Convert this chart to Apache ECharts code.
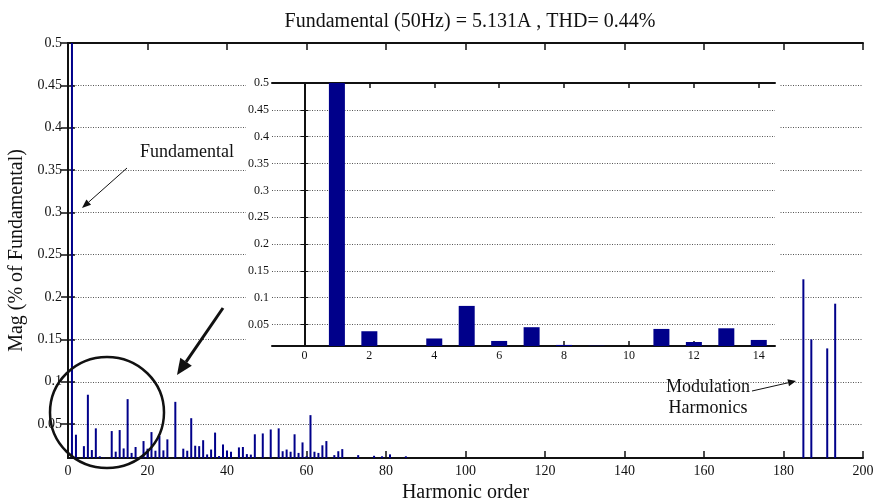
<!DOCTYPE html>
<html>
<head>
<meta charset="utf-8">
<script src="https://cdn.jsdelivr.net/npm/echarts@6/dist/echarts.min.js"></script>
<style>
  html, body { margin: 0; padding: 0; background: #fff; }
  #chart { width: 877px; height: 502px; }
</style>
</head>
<body>
<div id="chart"></div>
<script>
// Harmonic spectrum of the output current (magnitude in % of fundamental)
const harmonics = [
  0, 1, 2, 3, 4, 5, 6, 7, 8, 9, 10, 11, 12, 13, 14, 15, 16, 17, 18, 19,
  20, 21, 22, 23, 24, 25, 27, 29, 30, 31, 32, 33, 34, 35, 36, 37, 38, 39,
  40, 41, 43, 44, 45, 46, 47, 49, 51, 53, 54, 55, 56, 57, 58, 59, 60, 61,
  62, 63, 64, 65, 67, 68, 69, 73, 77, 79, 81, 85, 185, 187, 191, 193
];
const magnitudes = [
  0.004, 100, 0.0375, 0.004, 0.024, 0.0847, 0.0194, 0.045, 0.012, 0.0105,
  0.003, 0.0418, 0.0175, 0.043, 0.0213, 0.0795, 0.016, 0.023, 0.005, 0.030,
  0.021, 0.0406, 0.0186, 0.036, 0.019, 0.032, 0.0763, 0.021, 0.0186, 0.057,
  0.0245, 0.024, 0.031, 0.0142, 0.020, 0.040, 0.0123, 0.026,
  0.019, 0.0174, 0.0225, 0.023, 0.0146, 0.014, 0.038, 0.039, 0.0437, 0.045,
  0.018, 0.020, 0.0174, 0.038, 0.016, 0.0284, 0.012, 0.0606,
  0.0174, 0.016, 0.025, 0.030, 0.0134, 0.018, 0.0205, 0.0134, 0.0126, 0.012,
  0.0143, 0.012, 0.221, 0.150, 0.1394, 0.1922
];

// Axis ticks
const magTicks = [0.05, 0.1, 0.15, 0.2, 0.25, 0.3, 0.35, 0.4, 0.45, 0.5];
const zoomOrderTicks = [0, 2, 4, 6, 8, 10, 12, 14];
const zoomMaxOrder = 14;

const titleText = 'Fundamental (50Hz) = 5.131A , THD= 0.44%';
const xTitle = 'Harmonic order';
const yTitle = 'Mag (% of Fundamental)';

const SERIF = '"Liberation Serif", "Times New Roman", serif';
const BAR = '#00008a';
const INK = '#111';

const fullData = harmonics.map((h, i) => [h, magnitudes[i]]);
const zoomData = fullData.filter(d => d[0] <= zoomMaxOrder);

const gridLine = { show: true, lineStyle: { color: '#555', type: [1, 1.5], width: 1 } };
const frameLine = { show: true, lineStyle: { color: INK, width: 2 } };

function mirrorX(gridIndex, min, max, extra) {
  return Object.assign({
    gridIndex, type: 'value', position: 'top', min, max,
    axisLine: frameLine, axisLabel: { show: false }, splitLine: { show: false },
    axisTick: { show: true, inside: true, length: 7, lineStyle: { color: INK, width: 1.5 } }
  }, extra || {});
}
function mirrorY(gridIndex, extra) {
  return Object.assign({
    gridIndex, type: 'value', position: 'right', min: 0.01, max: 0.5,
    axisLine: frameLine, axisLabel: { show: false }, splitLine: { show: false },
    axisTick: { show: true, inside: true, length: 7, customValues: magTicks, lineStyle: { color: INK, width: 1.5 } }
  }, extra || {});
}

// Arrow helper: shaft plus filled triangular head
function arrow(x1, y1, x2, y2, width, headLen, headHalf) {
  const dx = x2 - x1, dy = y2 - y1, L = Math.hypot(dx, dy);
  const ux = dx / L, uy = dy / L, px = -uy, py = ux;
  const bx = x2 - ux * headLen, by = y2 - uy * headLen;
  return [
    { type: 'line', z: 30, shape: { x1, y1, x2: bx, y2: by },
      style: { stroke: INK, lineWidth: width } },
    { type: 'polygon', z: 30,
      shape: { points: [[x2, y2], [bx + px * headHalf, by + py * headHalf], [bx - px * headHalf, by - py * headHalf]] },
      style: { fill: INK } }
  ];
}

const chart = echarts.init(document.getElementById('chart'), null, { renderer: 'canvas' });

chart.setOption({
  backgroundColor: '#fff',
  animation: false,
  title: {
    text: titleText, left: 465, top: 7, textAlign: 'center',
    textStyle: { fontFamily: SERIF, fontSize: 20, fontWeight: 'normal', color: INK }
  },
  grid: [
    { left: 68, right: 14, top: 43, bottom: 44, outerBoundsMode: 'none', containLabel: false },
    { left: 272, right: 102, top: 83, bottom: 156, z: 10, outerBoundsMode: 'none', containLabel: false }
  ],
  xAxis: [
    {
      gridIndex: 0, type: 'value', min: 0, max: 200, interval: 20,
      name: xTitle, nameLocation: 'middle', nameGap: 22,
      nameTextStyle: { fontFamily: SERIF, fontSize: 20, color: INK },
      axisLine: Object.assign({ onZero: false }, frameLine),
      axisTick: { show: true, inside: true, length: 7, lineStyle: { color: INK, width: 1.5 } },
      axisLabel: { fontFamily: SERIF, fontSize: 14, color: INK, margin: 6 },
      splitLine: { show: false }
    },
    mirrorX(0, 0, 200, { interval: 20 }),
    {
      gridIndex: 1, type: 'value', min: -1, max: 14.5, z: 10,
      axisLine: Object.assign({ onZero: false }, frameLine),
      axisTick: { show: true, inside: true, length: 5, customValues: zoomOrderTicks, lineStyle: { color: INK, width: 1.5 } },
      axisLabel: { customValues: zoomOrderTicks, fontFamily: SERIF, fontSize: 12, color: INK, margin: 4 },
      splitLine: { show: false }
    },
    mirrorX(1, -1, 14.5, { z: 10, axisTick: { show: true, inside: true, length: 5, customValues: zoomOrderTicks, lineStyle: { color: INK, width: 1.5 } } })
  ],
  yAxis: [
    {
      gridIndex: 0, type: 'value', min: 0.01, max: 0.5,
      name: yTitle, nameLocation: 'middle', nameGap: 34, nameRotate: 90,
      nameTextStyle: { fontFamily: SERIF, fontSize: 20, color: INK },
      axisLine: frameLine,
      axisTick: { show: true, inside: true, length: 7, customValues: magTicks, lineStyle: { color: INK, width: 1.5 } },
      axisLabel: { customValues: magTicks, fontFamily: SERIF, fontSize: 14, color: INK, margin: 6 },
      splitLine: gridLine
    },
    mirrorY(0),
    {
      gridIndex: 1, type: 'value', min: 0.01, max: 0.5, z: 10,
      axisLine: frameLine,
      axisTick: { show: true, inside: true, length: 4, customValues: magTicks, lineStyle: { color: INK, width: 1 } },
      axisLabel: { customValues: magTicks, fontFamily: SERIF, fontSize: 12, color: INK, margin: 3 },
      splitLine: gridLine
    },
    mirrorY(1, { z: 10, axisTick: { show: true, inside: true, length: 4, customValues: magTicks, lineStyle: { color: INK, width: 1 } } })
  ],
  series: [
    {
      type: 'bar', xAxisIndex: 0, yAxisIndex: 0, data: fullData,
      barWidth: 2, itemStyle: { color: BAR }, clip: true, z: 2
    },
    {
      type: 'bar', xAxisIndex: 2, yAxisIndex: 2, data: zoomData,
      barWidth: 16, itemStyle: { color: BAR }, clip: true, z: 12
    }
  ],
  graphic: [
    // white panel behind the zoomed view
    { type: 'rect', z: 5, shape: { x: 246, y: 72, width: 533, height: 294 }, style: { fill: '#fff' } },
    // highlight of the low-order region
    { type: 'ellipse', z: 30, shape: { cx: 107, cy: 412.5, rx: 57, ry: 55.5 },
      style: { fill: 'none', stroke: INK, lineWidth: 2.5 } },
    ...arrow(223, 308, 177, 375, 3, 16, 7),
    { type: 'text', z: 30, x: 140, y: 152,
      style: { text: 'Fundamental', font: '18px ' + SERIF, fill: INK, textVerticalAlign: 'middle' } },
    ...arrow(127, 168, 82, 208, 1, 9, 3.5),
    { type: 'text', z: 30, x: 708, y: 398,
      style: { text: 'Modulation\nHarmonics', font: '18px ' + SERIF, fill: INK,
               textAlign: 'center', textVerticalAlign: 'middle', lineHeight: 21 } },
    ...arrow(752, 391, 796, 381, 1, 8, 3.5)
  ]
});
</script>
</body>
</html>
